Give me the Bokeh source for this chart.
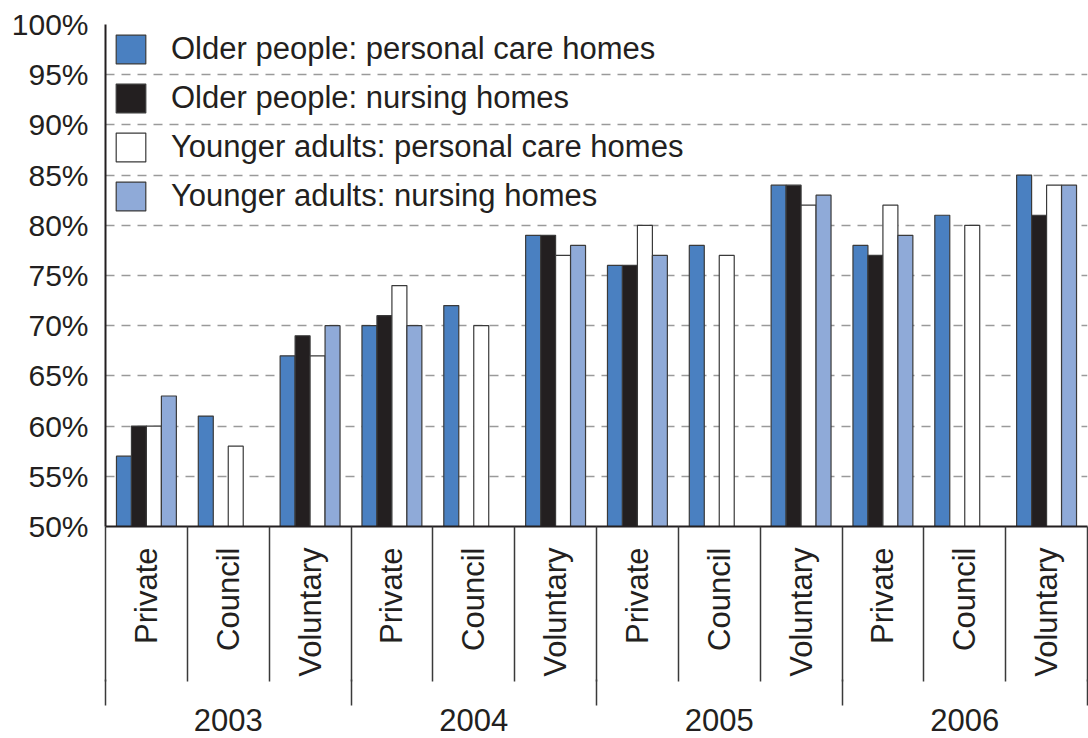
import math
from bokeh.plotting import figure
from bokeh.models import (ColumnDataSource, Range1d, FixedTicker, LinearAxis,
                          Legend, LegendItem, PrintfTickFormatter)
from bokeh.embed import file_html
from bokeh.resources import INLINE

years = ["2003", "2004", "2005", "2006"]
sectors = ["Private", "Council", "Voluntary"]
series_names = ["Older people: personal care homes",
                "Older people: nursing homes",
                "Younger adults: personal care homes",
                "Younger adults: nursing homes"]
series_colors = ["#4a80c1", "#231f20", "#ffffff", "#8faad8"]

# values per (year, sector) in order 2003 Private, Council, Voluntary, 2004 ...
older_personal = [57, 61, 67, 70, 72, 79, 76, 78, 84, 78, 81, 85]
older_nursing = [60, None, 69, 71, None, 79, 76, None, 84, 77, None, 81]
younger_personal = [60, 58, 67, 74, 70, 77, 80, 77, 82, 82, 80, 84]
younger_nursing = [63, None, 70, 70, None, 78, 77, None, 83, 79, None, 84]
series_values = [older_personal, older_nursing, younger_personal, younger_nursing]

y_ticks = [50, 55, 60, 65, 70, 75, 80, 85, 90, 95, 100]

FONT = "Liberation Sans"
TXT = "#231f20"
SEP = "#3a3a3a"
FS = "31px"
FS_Y = "30px"

n_cat = len(years) * len(sectors)
bar_w = 0.183

p = figure(width=1088, height=738, x_range=Range1d(0, n_cat), y_range=Range1d(50, 100),
           output_backend="svg", toolbar_location=None, x_axis_location=None,
           min_border_left=105, min_border_right=1, min_border_top=24, min_border_bottom=212)
p.outline_line_color = None
p.background_fill_color = "white"
p.border_fill_color = "white"

# y axis
ya = p.yaxis[0]
ya.ticker = FixedTicker(ticks=y_ticks)
ya.formatter = PrintfTickFormatter(format="%d%%")
ya.major_tick_out = 0
ya.major_tick_in = 0
ya.minor_tick_out = 0
ya.minor_tick_in = 0
ya.axis_line_color = TXT
ya.axis_line_width = 2
ya.major_label_standoff = 17
ya.major_label_text_font = FONT
ya.major_label_text_font_size = FS_Y
ya.major_label_text_color = TXT

p.ygrid.ticker = FixedTicker(ticks=y_ticks)
p.ygrid.grid_line_color = "#9a9a9a"
p.ygrid.grid_line_dash = "9 7"
p.ygrid.grid_line_width = 1.5
p.xgrid.grid_line_color = None

# bars
items = []
for i, (name, vals, col) in enumerate(zip(series_names, series_values, series_colors)):
    xs, tops = [], []
    for k, v in enumerate(vals):
        if v is None:
            continue
        xs.append(k + 0.5 + (i - 1.5) * bar_w)
        tops.append(v)
    src = ColumnDataSource(dict(x=xs, top=tops))
    r = p.vbar(x="x", top="top", bottom=40, width=bar_w, source=src,
               fill_color=col, line_color="#3a3a3a", line_width=1.2)
    items.append(LegendItem(label=name, renderers=[r]))

# sector axis: labels at sector centres, separators as minor ticks
sec_ticks = [k + 0.5 for k in range(n_cat)]
sec_bounds = list(range(n_cat + 1))
axA = LinearAxis(ticker=FixedTicker(ticks=sec_ticks, minor_ticks=sec_bounds),
                 major_label_overrides={t: sectors[k % 3] for k, t in enumerate(sec_ticks)},
                 major_label_orientation=math.pi / 2,
                 major_tick_out=0, major_tick_in=0,
                 minor_tick_out=155, minor_tick_in=0,
                 minor_tick_line_color=SEP, minor_tick_line_width=1.5,
                 axis_line_color=TXT, axis_line_width=2, major_label_standoff=-134,
                 major_label_text_font=FONT, major_label_text_font_size=FS,
                 major_label_text_color=TXT)
p.add_layout(axA, "below")

# year axis: labels at year centres, year separators continue as minor ticks
yr_ticks = [j * 3 + 1.5 for j in range(len(years))]
yr_bounds = [j * 3 for j in range(len(years) + 1)]
axB = LinearAxis(ticker=FixedTicker(ticks=yr_ticks, minor_ticks=yr_bounds),
                 major_label_overrides={t: years[j] for j, t in enumerate(yr_ticks)},
                 major_tick_out=0, major_tick_in=0,
                 minor_tick_out=26, minor_tick_in=0,
                 minor_tick_line_color=SEP, minor_tick_line_width=1.5,
                 axis_line_color=None, major_label_standoff=3,
                 major_label_text_font=FONT, major_label_text_font_size=FS,
                 major_label_text_color=TXT)
p.add_layout(axB, "below")

legend = Legend(items=items, location="top_left", background_fill_alpha=0,
                border_line_color=None, glyph_width=37, glyph_height=36,
                label_standoff=22, spacing=13, padding=0, margin=7,
                label_text_font=FONT, label_text_font_size=FS, label_text_color=TXT)
p.add_layout(legend)

open("out.html", "w").write(file_html(p, INLINE))
